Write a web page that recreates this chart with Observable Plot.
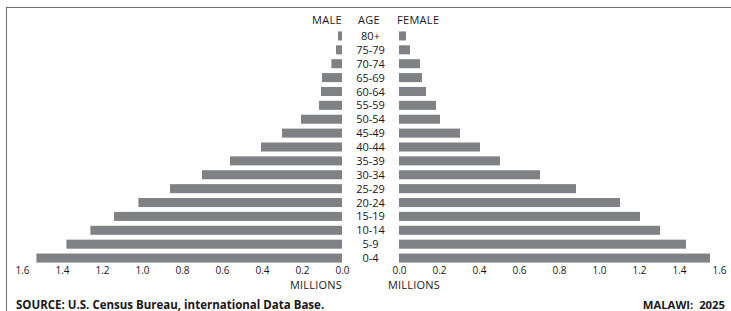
<!DOCTYPE html>
<html><head><meta charset="utf-8">
<script src="https://cdn.jsdelivr.net/npm/d3@7"></script>
<script src="https://cdn.jsdelivr.net/npm/@observablehq/plot@0.6"></script>
<style>
html,body{margin:0;padding:0;background:#fff;}
#wrap{position:relative;width:731px;height:311px;overflow:hidden;font-family:"Open Sans",sans-serif;color:#1a1718;background:#fff;}
#frame{position:absolute;left:6px;top:6.5px;width:740px;height:320px;border-left:1.5px solid #6d6e71;border-top:1.5px solid #6d6e71;box-sizing:border-box;}
.layer{position:absolute;left:0;top:0;}
.lbl{position:absolute;white-space:pre;line-height:1;}
</style></head>
<body>
<div id="wrap">
  <div id="frame"></div>
  <div id="left" class="layer"></div>
  <div id="right" class="layer"></div>
  <div class="lbl" style="right:389px;top:14px;font-size:11px;letter-spacing:0.3px">MALE</div>
  <div class="lbl" style="left:358px;top:14px;font-size:11px;letter-spacing:0.3px">AGE</div>
  <div class="lbl" style="left:397px;top:14px;font-size:11px;letter-spacing:0.3px">FEMALE</div>
  <div class="lbl" style="right:389px;top:279px;font-size:11px;letter-spacing:0.2px">MILLIONS</div>
  <div class="lbl" style="left:388px;top:279px;font-size:11px;letter-spacing:0.2px">MILLIONS</div>
  <div class="lbl" style="left:16px;top:299px;font-size:11.5px;font-weight:700">SOURCE: U.S. Census Bureau, international Data Base.</div>
  <div class="lbl" style="right:6px;top:299px;font-size:11.3px;font-weight:700">MALAWI:  2025</div>
</div>
<script>
const ages = ["80+","75-79","70-74","65-69","60-64","55-59","50-54","45-49","40-44","35-39","30-34","25-29","20-24","15-19","10-14","5-9","0-4"];
const male = [0.02,0.03,0.053,0.10,0.105,0.115,0.205,0.30,0.405,0.56,0.70,0.86,1.018,1.14,1.258,1.378,1.528];
const female = [0.035,0.055,0.105,0.115,0.135,0.185,0.205,0.305,0.405,0.505,0.705,0.885,1.105,1.205,1.305,1.435,1.555];
const xTicks = [0,0.2,0.4,0.6,0.8,1.0,1.2,1.4,1.6];

const barColor = "#808184";
const common = {
  width: 731, height: 311, marginTop: 29, marginBottom: 46,
  style: {fontFamily: "'Open Sans', sans-serif", fontSize: "10px", color: "#1a1718", background: "none", overflow: "visible"}
};
const yScale = {domain: ages, paddingInner: 0.35, paddingOuter: 0.175, align: 0.5, round: false};

const leftPlot = Plot.plot({
  ...common,
  marginLeft: 22, marginRight: 389,
  x: {domain: [0, 1.6], reverse: true},
  y: yScale,
  marks: [
    Plot.barX(ages, {y: d => d, x1: 0, x2: male, fill: barColor}),
    Plot.axisX({ticks: xTicks, tickFormat: d3.format(".1f"), tickSize: 0, tickPadding: 1, fontSize: 10, label: null}),
    Plot.axisY({anchor: "right", tickSize: 0, tickPadding: 28, textAnchor: "middle", fontSize: 11, label: null})
  ]
});
document.getElementById("left").appendChild(leftPlot);

const rightPlot = Plot.plot({
  ...common,
  marginLeft: 399, marginRight: 12,
  x: {domain: [0, 1.6]},
  y: {...yScale, axis: null},
  marks: [
    Plot.barX(ages, {y: d => d, x1: 0, x2: female, fill: barColor}),
    Plot.axisX({ticks: xTicks, tickFormat: d3.format(".1f"), tickSize: 0, tickPadding: 1, fontSize: 10, label: null})
  ]
});
document.getElementById("right").appendChild(rightPlot);
</script>
</body></html>
